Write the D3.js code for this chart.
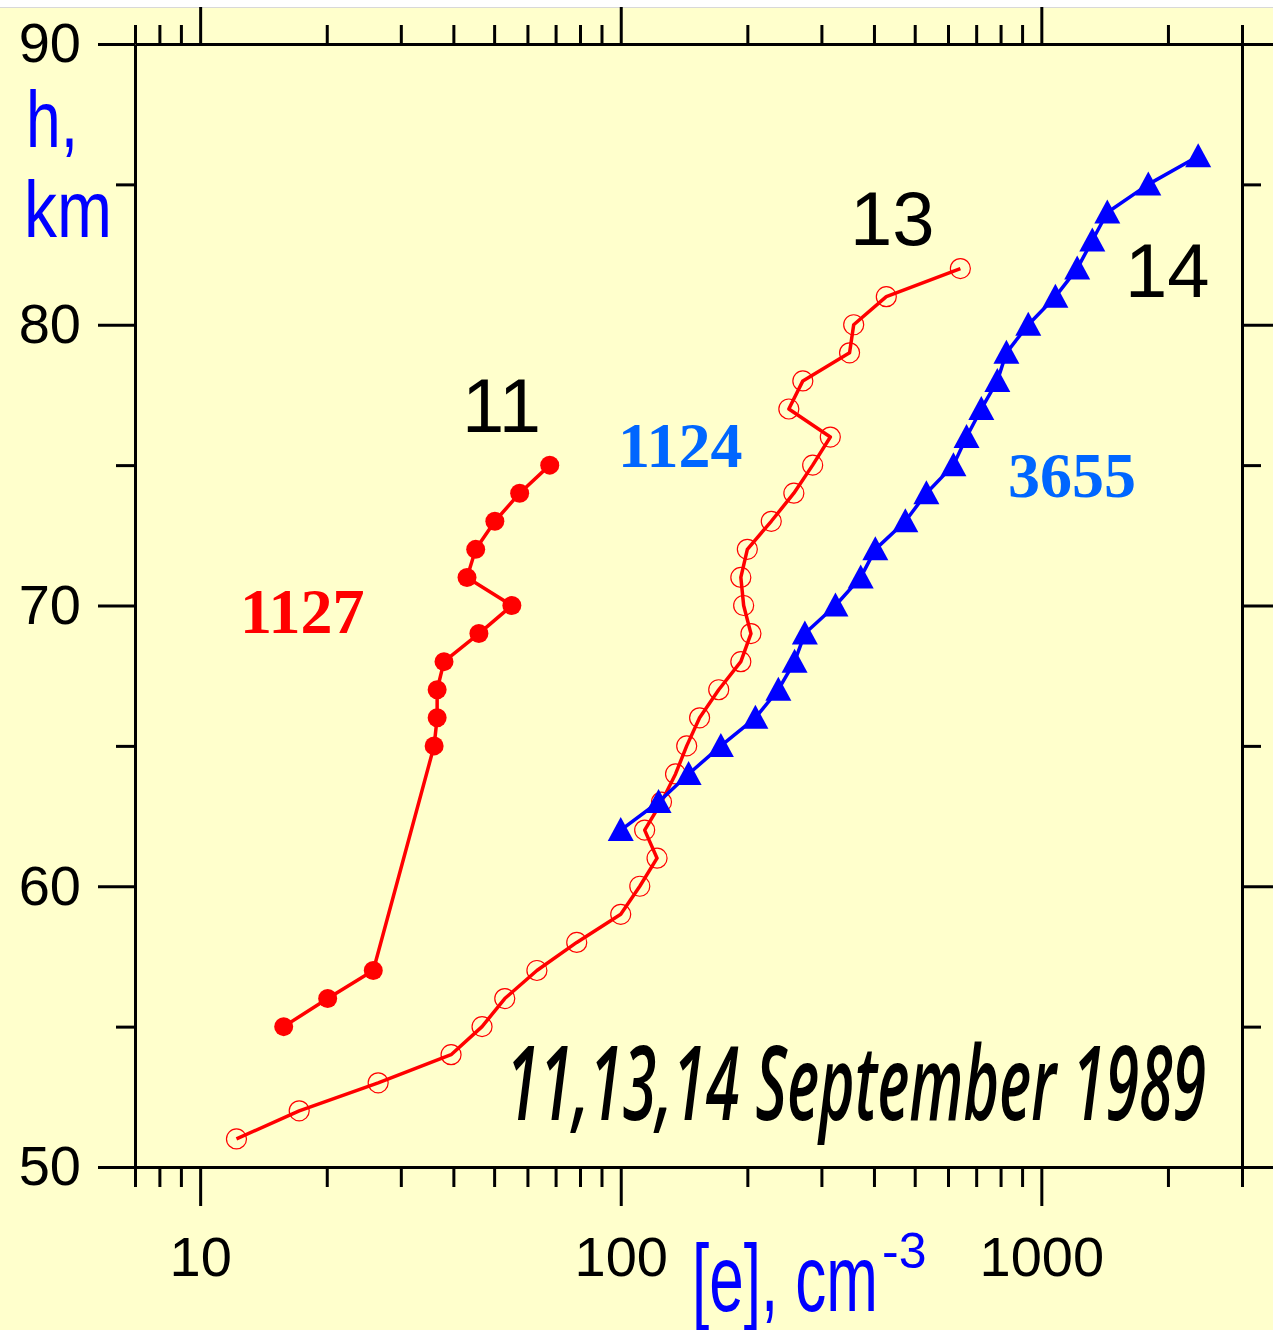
<!DOCTYPE html>
<html>
<head>
<meta charset="utf-8">
<script src="https://cdn.jsdelivr.net/npm/d3@7"></script>
<style>
  html, body { margin: 0; padding: 0; background: #ffffcc; }
  svg { display: block; }
</style>
</head>
<body>
<svg id="chart" width="1273" height="1330"></svg>
<script>
// Electron density profiles, 11, 13 and 14 September 1989
// 11 September: filled circles
const height11 = [55, 56, 57, 65, 66, 67, 68, 69, 70, 71, 72, 73, 74, 75];
const density11 = [15.8, 20.1, 25.8, 36.0, 36.6, 36.6, 38.0, 46.0, 55.1, 43.1, 45.2, 50.2, 57.5, 67.8];

// 13 September: open circles
const height13 = [51, 52, 53, 54, 55, 56, 57, 58, 59, 60, 61, 62, 63, 64, 65, 66,
                  67, 68, 69, 70, 71, 72, 73, 74, 75, 76, 77, 78, 79, 80, 81, 82];
const density13 = [12.2, 17.2, 26.5, 39.5, 46.8, 53.0, 63.2, 78.6, 100, 111, 122, 114, 125, 135, 143.5, 154,
                   171, 193, 204, 196, 193, 200, 228, 258, 286, 315, 251, 271, 350, 358, 428, 642];

// 14 September: triangles
const height14 = [62, 63, 64, 65, 66, 67, 68, 69, 70, 71, 72, 73, 74, 75, 76, 77,
                  78, 79, 80, 81, 82, 83, 84, 85, 86];
const density14 = [100, 123, 145, 173, 209, 237, 259, 274, 324, 372, 403, 475, 533, 618, 664, 720,
                   786, 826, 931, 1080, 1217, 1322, 1435, 1796, 2360];

// Axis ticks
const xMajorTicks = [10, 100, 1000];
const xMinorTicks = [7, 8, 9, 20, 30, 40, 50, 60, 70, 80, 90, 200, 300, 400, 500, 600, 700, 800, 900, 2000, 3000];
const yMajorTicks = [50, 60, 70, 80, 90];
const yMinorTicks = [55, 65, 75, 85];

const svg = d3.select("#chart");
const W = 1273, H = 1330;
const plotLeft = 135, plotRight = 1242, plotTop = 44, plotBottom = 1167;

svg.append("rect").attr("width", W).attr("height", H).attr("fill", "#ffffcc");
svg.append("rect").attr("width", W).attr("height", 7).attr("fill", "#ffffff");
svg.append("line").attr("x1", 0).attr("x2", W).attr("y1", 7.5).attr("y2", 7.5)
  .attr("stroke", "#d8d8d8").attr("stroke-width", 1);

const x = d3.scaleLog().domain([7, 3000]).range([plotLeft, plotRight]);
const y = d3.scaleLinear().domain([50, 90]).range([plotBottom, plotTop]);

const FONT = "'Liberation Sans', Arial, Helvetica, sans-serif";

function styleAxis(g) {
  g.selectAll("path, line").attr("stroke", "#000").attr("stroke-width", 3);
  g.selectAll("text").attr("fill", "#000").style("font-family", FONT).style("font-size", "56px");
}

// Bottom axis
svg.append("g").attr("transform", `translate(0,${plotBottom})`)
  .call(d3.axisBottom(x).tickValues(xMinorTicks).tickSize(20).tickSizeOuter(0).tickFormat(""))
  .call(styleAxis);
svg.append("g").attr("transform", `translate(0,${plotBottom})`)
  .call(d3.axisBottom(x).tickValues(xMajorTicks).tickSize(39).tickSizeOuter(0).tickPadding(30)
        .tickFormat(d3.format("d")))
  .call(styleAxis)
  .call(g => g.select(".domain").remove());

// Top axis
svg.append("g").attr("transform", `translate(0,${plotTop})`)
  .call(d3.axisTop(x).tickValues(xMinorTicks).tickSize(19).tickSizeOuter(0).tickFormat(""))
  .call(styleAxis);
svg.append("g").attr("transform", `translate(0,${plotTop})`)
  .call(d3.axisTop(x).tickValues(xMajorTicks).tickSize(37).tickSizeOuter(0).tickFormat(""))
  .call(styleAxis)
  .call(g => g.select(".domain").remove());

// Left axis
svg.append("g").attr("transform", `translate(${plotLeft},0)`)
  .call(d3.axisLeft(y).tickValues(yMinorTicks).tickSize(19).tickSizeOuter(0).tickFormat(""))
  .call(styleAxis);
svg.append("g").attr("transform", `translate(${plotLeft},0)`)
  .call(d3.axisLeft(y).tickValues(yMajorTicks).tickSize(37).tickSizeOuter(0).tickPadding(17)
        .tickFormat(d3.format("d")))
  .call(styleAxis)
  .call(g => g.select(".domain").remove());

// Right axis
svg.append("g").attr("transform", `translate(${plotRight},0)`)
  .call(d3.axisRight(y).tickValues(yMinorTicks).tickSize(19).tickSizeOuter(0).tickFormat(""))
  .call(styleAxis);
svg.append("g").attr("transform", `translate(${plotRight},0)`)
  .call(d3.axisRight(y).tickValues(yMajorTicks).tickSize(37).tickSizeOuter(0).tickFormat(""))
  .call(styleAxis)
  .call(g => g.select(".domain").remove());

// Axis titles
svg.append("text").attr("x", 26).attr("y", 147)
  .attr("textLength", 52).attr("lengthAdjust", "spacingAndGlyphs")
  .style("font-family", FONT).style("font-size", "80px").attr("fill", "#0000ff").text("h,");
svg.append("text").attr("x", 24).attr("y", 237)
  .attr("textLength", 88).attr("lengthAdjust", "spacingAndGlyphs")
  .style("font-family", FONT).style("font-size", "80px").attr("fill", "#0000ff").text("km");

svg.append("text").attr("x", 692).attr("y", 1311)
  .attr("textLength", 186).attr("lengthAdjust", "spacingAndGlyphs")
  .style("font-family", FONT).style("font-size", "94px").attr("fill", "#0000ff").text("[e], cm");
svg.append("text").attr("x", 882).attr("y", 1268)
  .style("font-family", FONT).style("font-size", "50px").attr("fill", "#0000ff").text("-3");

// Profiles
const zip = (hs, ns) => hs.map((h, i) => ({ h, n: ns[i] }));
const pts11 = zip(height11, density11);
const pts13 = zip(height13, density13);
const pts14 = zip(height14, density14);

const line = d3.line().x(d => x(d.n)).y(d => y(d.h));

// 13 September
svg.append("path").datum(pts13).attr("d", line)
  .attr("fill", "none").attr("stroke", "#ff0000").attr("stroke-width", 3.5).attr("stroke-linejoin", "round");
svg.append("g").selectAll("circle").data(pts13).join("circle")
  .attr("cx", d => x(d.n)).attr("cy", d => y(d.h)).attr("r", 10)
  .attr("fill", "none").attr("stroke", "#ff0000").attr("stroke-width", 1.2);

// 14 September
svg.append("path").datum(pts14).attr("d", line)
  .attr("fill", "none").attr("stroke", "#0000ff").attr("stroke-width", 3.5).attr("stroke-linejoin", "round");
svg.append("g").selectAll("path").data(pts14).join("path")
  .attr("transform", d => `translate(${x(d.n)},${y(d.h)})`)
  .attr("d", "M0,-13L13,11L-13,11Z")
  .attr("fill", "#0000ff");

// 11 September
svg.append("path").datum(pts11).attr("d", line)
  .attr("fill", "none").attr("stroke", "#ff0000").attr("stroke-width", 3.5).attr("stroke-linejoin", "round");
svg.append("g").selectAll("circle").data(pts11).join("circle")
  .attr("cx", d => x(d.n)).attr("cy", d => y(d.h)).attr("r", 9.5)
  .attr("fill", "#ff0000");

// Day labels
const dayLabel = (tx, ty, t) => svg.append("text").attr("x", tx).attr("y", ty)
  .style("font-family", FONT).style("font-size", "76px").attr("fill", "#000").text(t);
dayLabel(462, 432, "11");
dayLabel(850, 245, "13");
dayLabel(1125, 297, "14");

// Counts
const SERIF = "'Liberation Serif', 'Times New Roman', serif";
const countLabel = (tx, ty, t, c) => svg.append("text").attr("x", tx).attr("y", ty)
  .style("font-family", SERIF).style("font-size", "64px").style("font-weight", "bold")
  .attr("fill", c).text(t);
countLabel(240, 633, "1127", "#ff0000");
countLabel(618, 467, "1124", "#0066ff");
countLabel(1008, 497, "3655", "#0066ff");

// Date
svg.append("text").attr("x", 506).attr("y", 1120)
  .attr("textLength", 700).attr("lengthAdjust", "spacingAndGlyphs")
  .style("font-family", "'Open Sans', 'Liberation Sans', sans-serif").style("font-size", "104px")
  .style("font-style", "italic").style("font-weight", "600")
  .attr("fill", "#000").text("11,13,14 September 1989");
</script>
</body>
</html>
